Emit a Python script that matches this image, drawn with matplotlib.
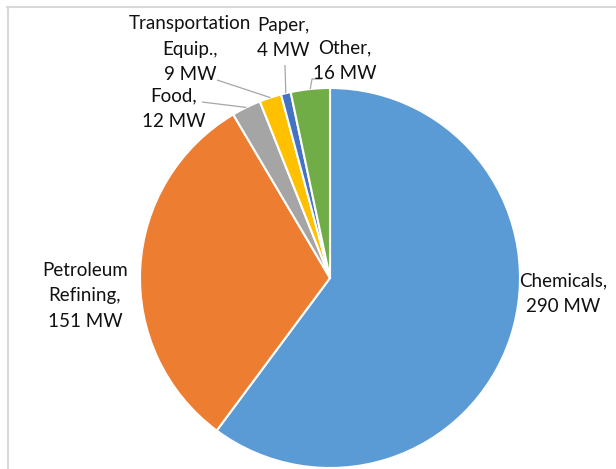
import numpy as np
import matplotlib
matplotlib.use("Agg")
import matplotlib.pyplot as plt
from matplotlib.lines import Line2D

categories = ["Chemicals", "Petroleum Refining", "Food", "Transportation Equip.", "Paper", "Other"]
values = [290, 151, 12, 9, 4, 16]
labels = ["Chemicals,\n290 MW", "Petroleum\nRefining,\n151 MW", "Food,\n12 MW",
          "Transportation\nEquip.,\n9 MW", "Paper,\n4 MW", "Other,\n16 MW"]
colors = ["#5B9BD5", "#ED7D31", "#A5A5A5", "#FFC000", "#4472C4", "#70AD47"]

W, H = 616, 469
fig = plt.figure(figsize=(W / 100, H / 100), dpi=100)
fig.patch.set_facecolor("white")

# pie geometry in pixels
cx, cy, R = 330, 278, 190
ax = fig.add_axes([(cx - R) / W, (H - cy - R) / H, 2 * R / W, 2 * R / H])

wedges, _ = ax.pie(values, colors=colors, startangle=90, counterclock=False, radius=1.0,
                   wedgeprops=dict(edgecolor="white", linewidth=1.5))
ax.set_xlim(-1, 1)
ax.set_ylim(-1, 1)
ax.set_aspect("equal")
ax.axis("off")

def p2d(px, py):
    return ((px - cx) / R, (cy - py) / R)

font = dict(family=["Lato", "DejaVu Sans"], fontsize=13.5, color="#111111")
# label positions (pixel centers)
label_pos = [(563, 294, "center"), (85, 296, "center"), (174, 109, "center"),
             (190, 49, "center"), (283, 38, "center"), (345, 61, "center")]
for lab, (px, py, ha) in zip(labels, label_pos):
    x, y = p2d(px, py)
    ax.text(x, y, lab, ha=ha, va="center", linespacing=1.6, clip_on=False, **font)

# leader lines from wedge mid-angle to label
total = sum(values)
cum = np.cumsum([0] + values)
def mid_point(i):
    frac = (cum[i] + cum[i + 1]) / 2 / total
    ang = np.deg2rad(90 - 360 * frac)
    return np.cos(ang), np.sin(ang)

leaders = {2: [(202, 102)], 3: [(217, 80)], 4: [(285, 65)], 5: [(322, 79), (312, 79)]}
for i, pts in leaders.items():
    xs = [p2d(*p)[0] for p in pts]
    ys = [p2d(*p)[1] for p in pts]
    mx, my = mid_point(i)
    xs.append(mx * 1.0)
    ys.append(my * 1.0)
    ax.plot(xs, ys, color="#A6A6A6", lw=0.9, clip_on=False, solid_capstyle="butt")

# chart border
fig.add_artist(Line2D([7 / W, 1], [1 - 7.5 / H, 1 - 7.5 / H], color="#D9D9D9", lw=1.5))
fig.add_artist(Line2D([7.5 / W, 7.5 / W], [0, 1 - 7 / H], color="#D9D9D9", lw=1.5))

fig.savefig("out.png", dpi=100, facecolor="white")
